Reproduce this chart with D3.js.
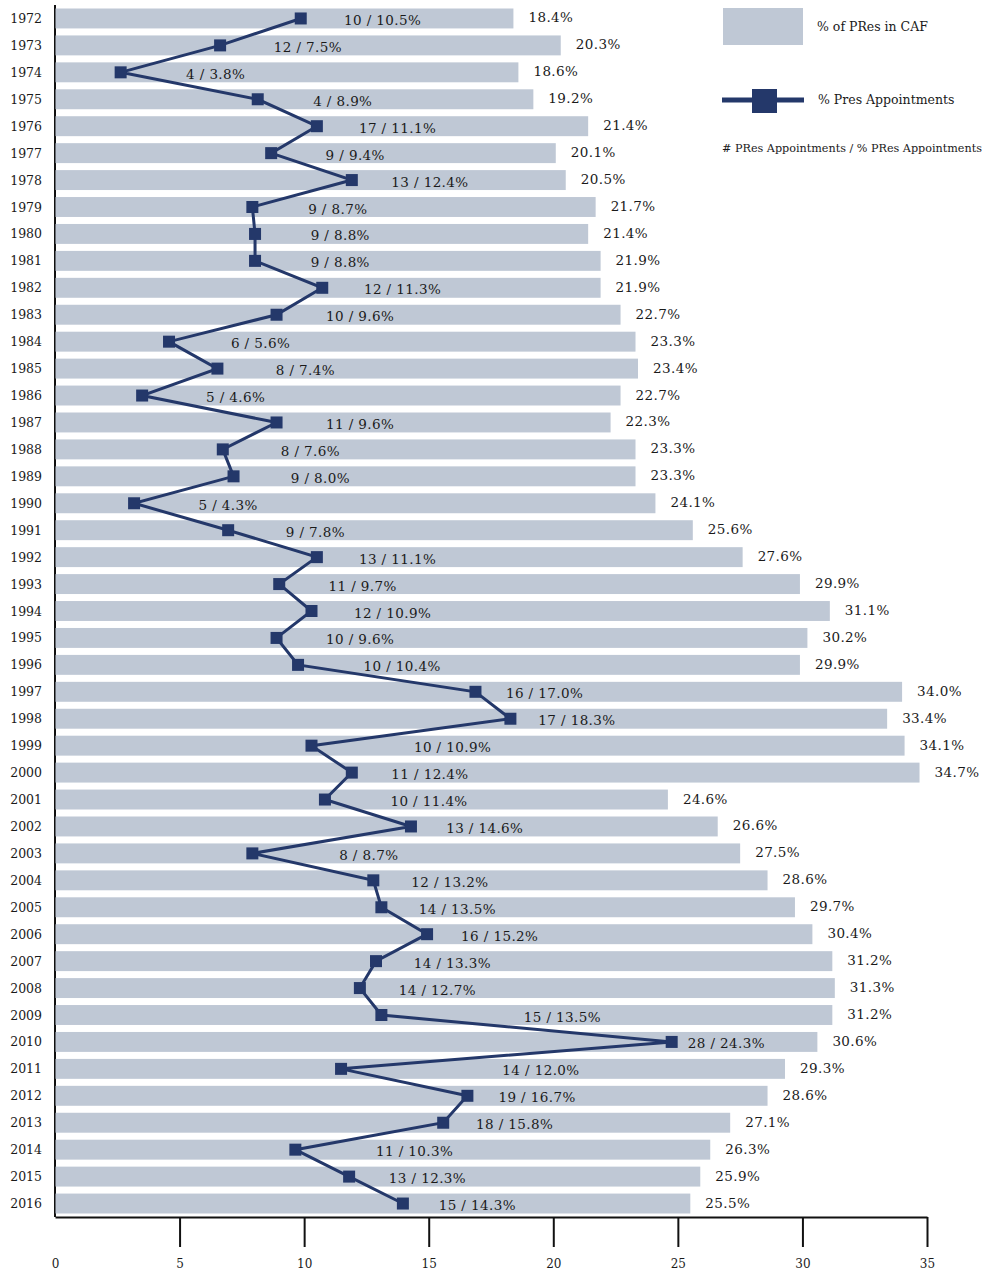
<!DOCTYPE html>
<html>
<head>
<meta charset="utf-8">
<script src="https://cdn.jsdelivr.net/npm/d3@7"></script>
<style>
    body { margin: 0; background: #fff; }
    text { font-family: "DejaVu Serif", serif; fill: #1a1a1a; }
</style>
</head>
<body>
<script>
// Data
const years = d3.range(1972, 2017);

const cafShare = [18.4, 20.3, 18.6, 19.2, 21.4, 20.1, 20.5, 21.7, 21.4, 21.9,
    21.9, 22.7, 23.3, 23.4, 22.7, 22.3, 23.3, 23.3, 24.1, 25.6,
    27.6, 29.9, 31.1, 30.2, 29.9, 34.0, 33.4, 34.1, 34.7, 24.6,
    26.6, 27.5, 28.6, 29.7, 30.4, 31.2, 31.3, 31.2, 30.6, 29.3,
    28.6, 27.1, 26.3, 25.9, 25.5];

const apptCount = [10, 12, 4, 4, 17, 9, 13, 9, 9, 9,
    12, 10, 6, 8, 5, 11, 8, 9, 5, 9,
    13, 11, 12, 10, 10, 16, 17, 10, 11, 10,
    13, 8, 12, 14, 16, 14, 14, 15, 28, 14,
    19, 18, 11, 13, 15];

const apptShare = [10.5, 7.5, 3.8, 8.9, 11.1, 9.4, 12.4, 8.7, 8.8, 8.8,
    11.3, 9.6, 5.6, 7.4, 4.6, 9.6, 7.6, 8.0, 4.3, 7.8,
    11.1, 9.7, 10.9, 9.6, 10.4, 17.0, 18.3, 10.9, 12.4, 11.4,
    14.6, 8.7, 13.2, 13.5, 15.2, 13.3, 12.7, 13.5, 24.3, 12.0,
    16.7, 15.8, 10.3, 12.3, 14.3];

const xTicks = [0, 5, 10, 15, 20, 25, 30, 35];

const width = 989;
const height = 1270;
const barColor = "#bfc8d5";
const lineColor = "#24386a";

// labels that were dragged clear of the line in the original (px)
const labelNudge = { 1996: 22, 1999: 60, 2001: 24, 2003: 31, 2009: 105, 2011: 121, 2014: 37 };

let rows = years.map((y, i) => ({
    year: y,
    caf: cafShare[i],
    count: apptCount[i],
    appt: apptShare[i]
}));

let svg = d3.select("body")
    .append("svg")
    .attr("width", width)
    .attr("height", height);

let xScale = d3.scaleLinear()
    .domain([0, 35])
    .range([55, 927]);

// the line sits on its own (hidden) secondary axis
let lineScale = d3.scaleLinear()
    .domain([0, 30])
    .range([18.5, 18.5 + 26.88 * 30]);

let yScale = d3.scaleBand()
    .domain(years)
    .range([5, 1217])
    .paddingInner(0.26)
    .paddingOuter(0.13);

let mid = d => yScale(d.year) + yScale.bandwidth() / 2;

// left axis line (under the bars)
svg.append("line")
    .attr("x1", xScale(0))
    .attr("x2", xScale(0))
    .attr("y1", 5)
    .attr("y2", 1217)
    .attr("stroke", "#111")
    .attr("stroke-width", 2);

svg.selectAll("rect.bar")
    .data(rows)
    .join("rect")
    .attr("class", "bar")
    .attr("x", xScale(0) + 0.5)
    .attr("y", d => yScale(d.year))
    .attr("width", d => xScale(d.caf) - xScale(0) - 0.5)
    .attr("height", yScale.bandwidth())
    .attr("fill", barColor);

// year labels
svg.selectAll("text.year")
    .data(rows)
    .join("text")
    .attr("class", "year")
    .attr("x", 42)
    .attr("y", d => mid(d) + 4.5)
    .attr("text-anchor", "end")
    .style("font-size", "12.5px")
    .text(d => d.year);

// bar value labels
svg.selectAll("text.caf")
    .data(rows)
    .join("text")
    .attr("class", "caf")
    .attr("x", d => xScale(d.caf) + 15)
    .attr("y", d => mid(d) + 4)
    .style("font-size", "13.5px")
    .style("letter-spacing", "0.4px")
    .text(d => d.caf.toFixed(1) + "%");

// count / share labels
svg.selectAll("text.appt")
    .data(rows)
    .join("text")
    .attr("class", "appt")
    .attr("x", d => xScale(d.appt) + 66 + (labelNudge[d.year] || 0))
    .attr("y", d => mid(d) + 6.5)
    .attr("text-anchor", "middle")
    .style("font-size", "13.5px")
    .style("letter-spacing", "0.4px")
    .text(d => `${d.count} / ${d.appt.toFixed(1)}%`);

let line = d3.line()
    .x(d => lineScale(d.appt))
    .y(d => mid(d));

svg.append("path")
    .datum(rows)
    .attr("d", line)
    .attr("fill", "none")
    .attr("stroke", lineColor)
    .attr("stroke-width", 3)
    .attr("stroke-linejoin", "miter");

svg.selectAll("rect.marker")
    .data(rows)
    .join("rect")
    .attr("class", "marker")
    .attr("x", d => lineScale(d.appt) - 6)
    .attr("y", d => mid(d) - 6)
    .attr("width", 12)
    .attr("height", 12)
    .attr("fill", lineColor);

// bottom axis
let bottomAxis = d3.axisBottom(xScale)
    .tickValues(xTicks)
    .tickSize(30)
    .tickSizeOuter(0)
    .tickPadding(12);

let bottom = svg.append("g")
    .attr("transform", "translate(0, 1217)")
    .call(bottomAxis);

bottom.select(".domain").attr("stroke", "#111").attr("stroke-width", 2);
bottom.selectAll(".tick line")
    .attr("stroke", "#111")
    .attr("stroke-width", 2)
    .attr("y2", d => d === 0 ? 0 : 30);
bottom.selectAll(".tick text")
    .style("font-family", "DejaVu Serif, serif")
    .style("font-size", "12px")
    .attr("fill", "#1a1a1a");

// legend
let legend = svg.append("g");

legend.append("rect")
    .attr("x", 723)
    .attr("y", 8)
    .attr("width", 80)
    .attr("height", 37)
    .attr("fill", barColor);

legend.append("text")
    .attr("x", 817)
    .attr("y", 31)
    .style("font-size", "12.5px")
    .text("% of PRes in CAF");

legend.append("line")
    .attr("x1", 722)
    .attr("x2", 804)
    .attr("y1", 100)
    .attr("y2", 100)
    .attr("stroke", lineColor)
    .attr("stroke-width", 5);

legend.append("rect")
    .attr("x", 752)
    .attr("y", 89)
    .attr("width", 25)
    .attr("height", 24)
    .attr("fill", lineColor);

legend.append("text")
    .attr("x", 818)
    .attr("y", 104)
    .style("font-size", "12.5px")
    .text("% Pres Appointments");

legend.append("text")
    .attr("x", 722)
    .attr("y", 152)
    .style("font-size", "11.2px")
    .text("# PRes Appointments / % PRes Appointments");
</script>
</body>
</html>
